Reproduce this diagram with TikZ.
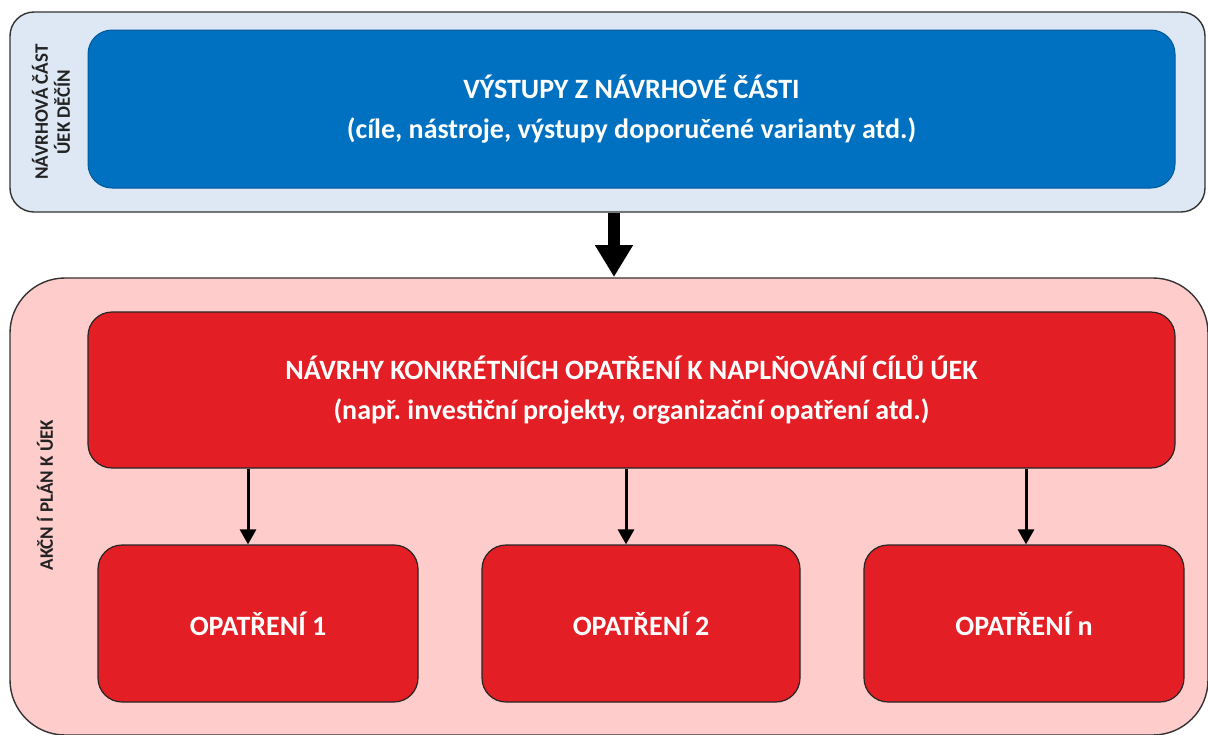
\documentclass[tikz,border=0pt]{standalone}
\usepackage{fontspec}
\setmainfont{Carlito}
\usetikzlibrary{arrows.meta}
\frenchspacing
\definecolor{outerblue}{HTML}{DEE8F4}
\definecolor{innerblue}{HTML}{0070C0}
\definecolor{outerred}{HTML}{FFCCCC}
\definecolor{innerred}{HTML}{E31E24}
\definecolor{labeldark}{HTML}{222222}
\tikzset{
  outerbox/.style={draw=black!80, line width=1.4pt, rounded corners=24pt},
  bluebox/.style={draw=innerblue!80!black, line width=1pt, fill=innerblue, rounded corners=24pt, text=white, font=\bfseries\fontsize{28}{34}\selectfont, align=center},
  redbox/.style={draw=black!85, line width=1.2pt, fill=innerred, rounded corners=24pt, text=white, font=\bfseries\fontsize{28}{34}\selectfont, align=center},
  sidelabel/.style={rotate=90, text=labeldark, font=\bfseries\fontsize{19}{22}\selectfont, align=center},
  smallarrow/.style={-{Triangle[length=15pt,width=16pt]}, line width=3pt},
  bigarrow/.style={-{Triangle[length=32pt,width=36pt]}, line width=12pt}
}
\begin{document}
\begin{tikzpicture}[x=1pt,y=-1pt]
\useasboundingbox (0,0) rectangle (1208,734);
% outer frames
\draw[outerbox, fill=outerblue] (10,12) rectangle (1205,212);
\draw[outerbox, fill=outerred, rounded corners=55pt] (10,278) rectangle (1208,735);
% side labels
\node[sidelabel] (lab1) at (51,112) {NÁVRHOVÁ ČÁST\\ÚEK DĚČÍN};
\node[sidelabel] (lab2) at (45,495) {AKČN Í PLÁN K ÚEK};
% blue box
\node[bluebox, minimum width=1087pt, minimum height=158pt] (vystupy) at (631.5,109) {VÝSTUPY Z NÁVRHOVÉ ČÁSTI\\[6pt](cíle, nástroje, výstupy doporučené varianty atd.)};
% red main box
\node[redbox, minimum width=1087pt, minimum height=156pt] (navrhy) at (631.5,390) {NÁVRHY KONKRÉTNÍCH OPATŘENÍ K NAPLŇOVÁNÍ CÍLŮ ÚEK\\[6pt](např. investiční projekty, organizační opatření atd.)};
% small boxes
\node[redbox, minimum width=320pt, minimum height=157pt] (op1) at (258,623.5) {OPATŘENÍ 1};
\node[redbox, minimum width=318pt, minimum height=157pt] (op2) at (641,623.5) {OPATŘENÍ 2};
\node[redbox, minimum width=320pt, minimum height=157pt] (opn) at (1024,623.5) {OPATŘENÍ n};
% arrows
\coordinate (bigS) at (614,213);
\coordinate (bigE) at (614,277);
\draw[bigarrow] (bigS) -- (bigE);
\draw[smallarrow] (navrhy.south -| 248,0) -- (op1.north -| 248,0);
\draw[smallarrow] (navrhy.south -| 626,0) -- (op2.north -| 626,0);
\draw[smallarrow] (navrhy.south -| 1026,0) -- (opn.north -| 1026,0);
\end{tikzpicture}
\end{document}
